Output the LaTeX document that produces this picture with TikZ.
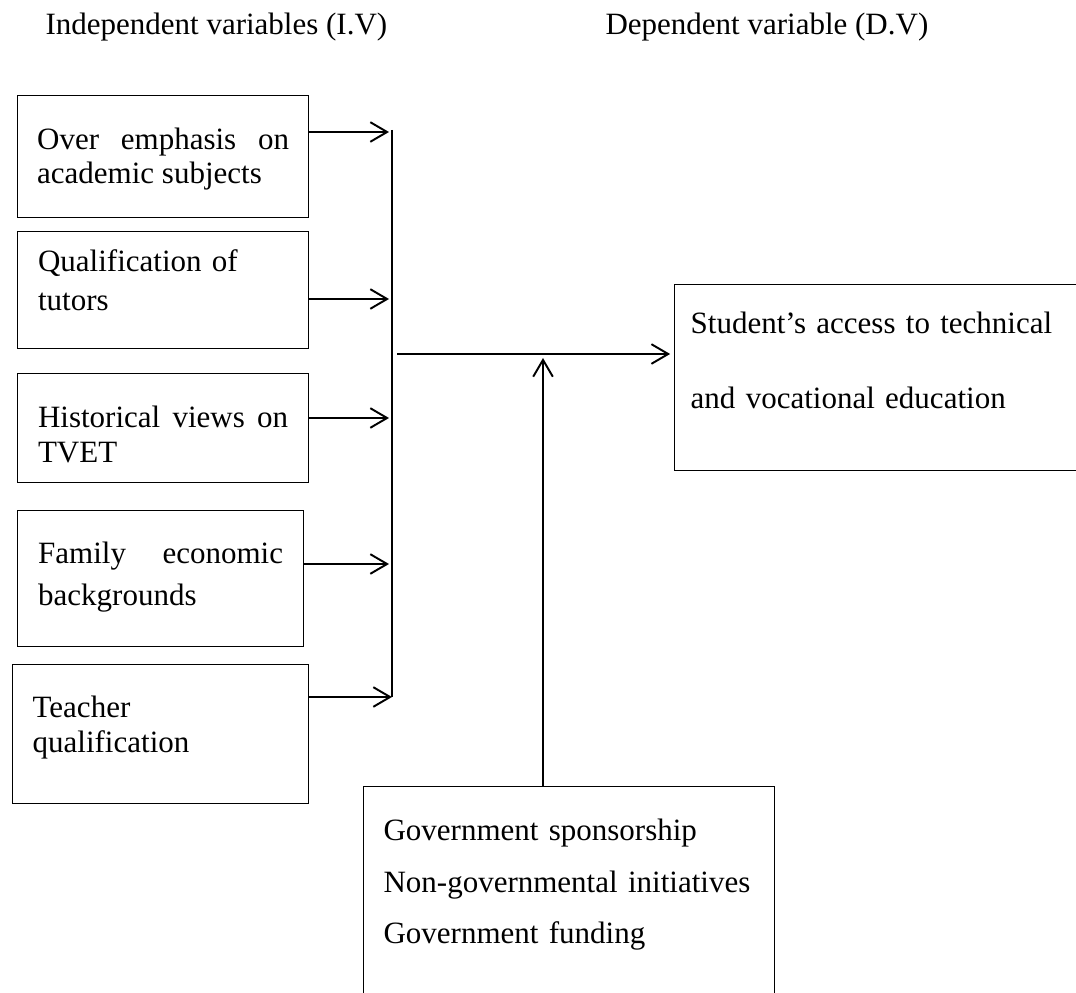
\documentclass[tikz,border=0pt]{standalone}
\usepackage{fontspec}
\setmainfont{Liberation Serif}
\usetikzlibrary{arrows.meta}
\tikzstyle{ivbox} = [rectangle, draw=black, line width=0.5pt, anchor=north west, inner xsep=0pt, inner ysep=0pt, minimum width=112.6pt, align=justify]
\tikzstyle{dvbox} = [rectangle, draw=black, line width=0.5pt, anchor=north west, inner ysep=0pt, align=left]
\tikzstyle{heading} = [anchor=base west, inner sep=0pt, font=\fontsize{12}{14}\selectfont]
\tikzstyle{arrow} = [line width=0.75pt, -{Straight Barb[length=6.5pt,width=7.6pt]}]
\tikzstyle{bar} = [line width=0.75pt]

\begin{document}
\begin{tikzpicture}[x=0.3871pt, y=-0.3871pt]

        \useasboundingbox (0,0) rectangle (1076,993);
        \clip (0,0) rectangle (1076,993);

        \node (ivtitle) [heading] at (45,35) {Independent variables (I.V)};
        \node (dvtitle) [heading] at (605,35) {Dependent variable (D.V)};

        \node (emphasis) [ivbox, text width=97.5pt, text height=20.9pt, text depth=26.3pt, font=\fontsize{12}{13.2}\selectfont] at (17,95) {Over emphasis on academic subjects};
        \node (tutors) [ivbox, text width=96.8pt, text height=15.5pt, text depth=29.8pt, align=left, font=\fontsize{12}{15.1}\selectfont] at (17,231) {Qualification of\\tutors};
        \node (history) [ivbox, text width=96.8pt, text height=20.9pt, text depth=21.3pt, font=\fontsize{12}{13.5}\selectfont] at (17,373) {Historical views on TVET};
        \node (family) [ivbox, minimum width=110.7pt, text width=94.8pt, text height=20.5pt, text depth=32.1pt, font=\fontsize{12}{16.3}\selectfont] at (17,510) {Family economic backgrounds};
        \node (teacher) [ivbox, minimum width=114.6pt, text width=99.1pt, text height=20.5pt, text depth=33.3pt, align=left, font=\fontsize{12}{13.5}\selectfont] at (12,664) {Teacher\\qualification};

        \node (access) [dvbox, text width=148.6pt, inner xsep=6.2pt, text height=19pt, text depth=53pt, font=\fontsize{12}{29}\selectfont] at (674,284) {Student’s access to technical\\and vocational education};
        \node (support) [dvbox, text width=143.6pt, inner xsep=7.7pt, text height=20.9pt, text depth=100pt, font=\fontsize{12}{20}\selectfont] at (363,786) {Government sponsorship\\Non-governmental initiatives\\Government funding};

        \coordinate (bartop) at (392,130);
        \coordinate (barbot) at (392,697);
        \coordinate (in1) at (389,132);
        \coordinate (in2) at (389,299);
        \coordinate (in3) at (389,418);
        \coordinate (in4) at (389,564);
        \coordinate (hub) at (397,354);
        \coordinate (join) at (543,358);

        \draw [bar] (bartop) -- (barbot);
        \draw [arrow] (emphasis.east |- in1) -- (in1);
        \draw [arrow] (tutors.east |- in2) -- (in2);
        \draw [arrow] (history.east |- in3) -- (in3);
        \draw [arrow] (family.east |- in4) -- (in4);
        \draw [arrow] (teacher.east |- barbot) -- (barbot);

        \draw [arrow, shorten >=1.5pt] (hub) -- (access.west |- hub);
        \draw [arrow] (support.north -| join) -- (join);

\end{tikzpicture}
\end{document}
